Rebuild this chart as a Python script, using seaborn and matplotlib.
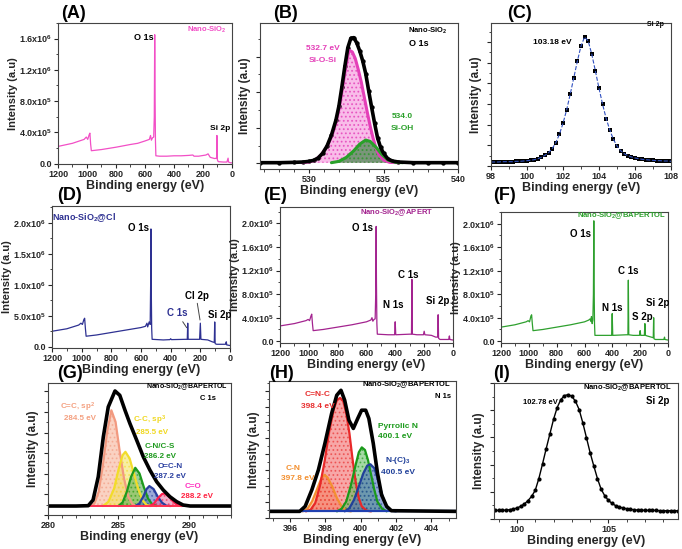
import numpy as np
import matplotlib
matplotlib.use("Agg")
import matplotlib.pyplot as plt
from matplotlib.ticker import FuncFormatter, MultipleLocator, AutoMinorLocator, NullFormatter
import seaborn as sns

# ---- survey spectra (energy in eV, counts in units of 1e6) ----
a_energy = [1200, 1100, 1020, 1005, 995, 985, 980, 975, 970, 900, 800, 700, 650, 600, 570, 562, 556,
            548, 540, 536, 533, 531, 528, 525, 500, 450, 400, 350, 300, 270, 262, 230, 180, 165, 150,
            120, 106, 104, 101, 95, 60, 35, 27, 24, 10, 0]
a_counts = [0.22, 0.26, 0.31, 0.34, 0.31, 0.37, 0.39, 0.25, 0.165, 0.18, 0.21, 0.245, 0.26, 0.29, 0.31,
            0.36, 0.30, 0.33, 0.34, 0.6, 1.65, 1.0, 0.3, 0.1, 0.095, 0.095, 0.1, 0.1, 0.105, 0.11, 0.095,
            0.095, 0.11, 0.125, 0.08, 0.065, 0.07, 0.36, 0.05, 0.025, 0.02, 0.02, 0.07, 0.02, 0.01, 0.01]

d_energy = [1200, 1100, 1020, 1005, 995, 985, 980, 975, 970, 900, 800, 700, 600, 570, 560, 555, 545,
            538, 535, 533, 531, 528, 525, 450, 405, 400, 395, 300, 288, 285, 282, 250, 205, 200, 196,
            150, 120, 106, 103, 100, 90, 30, 25, 22, 0]
d_counts = [0.25, 0.29, 0.35, 0.38, 0.36, 0.44, 0.46, 0.3, 0.17, 0.19, 0.23, 0.27, 0.31, 0.33, 0.38,
            0.32, 0.40, 0.36, 1.0, 1.9, 1.0, 0.3, 0.12, 0.11, 0.115, 0.13, 0.115, 0.12, 0.12, 0.38, 0.12,
            0.12, 0.12, 0.38, 0.12, 0.11, 0.08, 0.07, 0.40, 0.05, 0.04, 0.04, 0.08, 0.03, 0.02]

e_energy = [1200, 1100, 1020, 1005, 995, 985, 980, 975, 970, 900, 800, 700, 600, 570, 562, 556, 548,
            540, 536, 533, 531, 528, 525, 450, 405, 401, 397, 300, 288, 285, 282, 250, 205, 200, 195,
            150, 120, 106, 103, 100, 90, 30, 25, 22, 0]
e_counts = [0.26, 0.30, 0.35, 0.37, 0.35, 0.43, 0.46, 0.3, 0.18, 0.20, 0.24, 0.28, 0.33, 0.36, 0.40,
            0.34, 0.37, 0.38, 0.8, 1.95, 1.0, 0.3, 0.12, 0.11, 0.11, 0.33, 0.11, 0.12, 0.12, 1.05, 0.12,
            0.11, 0.11, 0.17, 0.11, 0.10, 0.07, 0.07, 0.45, 0.05, 0.03, 0.03, 0.09, 0.03, 0.02]

f_energy = [1200, 1100, 1020, 1005, 995, 985, 980, 975, 970, 900, 800, 700, 600, 570, 560, 555, 550,
            545, 540, 536, 533, 531, 528, 525, 450, 405, 401, 397, 300, 288, 285, 282, 250, 205, 200,
            196, 170, 166, 162, 150, 120, 106, 103, 100, 90, 30, 25, 22, 0]
f_counts = [0.24, 0.28, 0.33, 0.35, 0.33, 0.43, 0.45, 0.3, 0.18, 0.20, 0.24, 0.28, 0.33, 0.36, 0.38,
            0.34, 0.42, 0.30, 0.36, 0.8, 2.05, 1.0, 0.3, 0.10, 0.10, 0.10, 0.47, 0.10, 0.11, 0.11, 1.04,
            0.11, 0.10, 0.10, 0.18, 0.10, 0.10, 0.30, 0.10, 0.09, 0.07, 0.06, 0.40, 0.04, 0.03, 0.03,
            0.07, 0.03, 0.02]

# ---- (B) O 1s of nano-SiO2 ----
b_env_x = [526.7, 528, 529, 529.6, 530.0, 530.3, 530.6, 530.9, 531.2, 531.5, 531.8, 532.0, 532.2, 532.4,
           532.6, 532.8, 533.0, 533.2, 533.4, 533.6, 533.8, 534.0, 534.2, 534.4, 534.6, 534.8, 535.0,
           535.3, 535.6, 536.0, 537, 538, 539, 540]
b_env_y = [2, 2, 3, 4, 6, 9, 16, 30, 52, 85, 130, 172, 230, 292, 348, 376, 378, 362, 338, 308, 270, 218,
           168, 120, 76, 48, 30, 13, 7, 4, 2, 2, 2, 2]
b_siosi_x = [529.5, 530, 530.4, 530.8, 531.2, 531.5, 531.8, 532.0, 532.2, 532.4, 532.6, 532.7, 532.9,
             533.1, 533.3, 533.5, 533.7, 533.9, 534.1, 534.3, 534.5, 534.7, 535.0, 535.4, 536]
b_siosi_y = [2, 4, 10, 25, 50, 80, 122, 162, 215, 272, 325, 340, 335, 315, 282, 245, 200, 155, 112, 75,
             45, 25, 10, 3, 2]
b_sioh_x = [531.5, 532.0, 532.5, 533.0, 533.4, 533.8, 534.1, 534.5, 534.9, 535.3, 535.8, 536.3]
b_sioh_y = [2, 6, 18, 38, 58, 70, 66, 48, 26, 10, 3, 2]

# ---- (C) Si 2p of nano-SiO2 ----
c_x = [98.0, 98.2, 98.4, 98.6, 98.8, 99.0, 99.2, 99.4, 99.6, 99.8, 100.0, 100.2, 100.4, 100.6, 100.8,
       101.0, 101.2, 101.4, 101.6, 101.8, 102.0, 102.2, 102.4, 102.6, 102.8, 103.0, 103.2, 103.4, 103.6,
       103.8, 104.0, 104.2, 104.4, 104.6, 104.8, 105.0, 105.2, 105.4, 105.6, 105.8, 106.0, 106.2, 106.4,
       106.6, 106.8, 107.0, 107.2, 107.4, 107.6, 107.8, 108.0]
c_y = [12, 12, 12, 13, 13, 13, 13, 14, 14, 15, 16, 17, 19, 22, 26, 32, 40, 52, 70, 95, 128, 168, 215,
       265, 315, 360, 387, 375, 335, 285, 233, 185, 142, 108, 80, 60, 46, 37, 31, 27, 24, 22, 20, 19,
       18, 17, 16, 16, 15, 15, 14]

# ---- (G) C 1s of nano-SiO2@BAPERTOL ----
g_env_x = [280, 282.0, 282.86, 283.2, 283.57, 283.93, 284.28, 284.76, 285.1, 285.47, 285.82, 286.3,
           286.77, 287.24, 287.72, 288.19, 288.66, 289.14, 289.6, 290.1, 293]
g_env_y = [27, 27, 28, 45, 115, 235, 325, 373, 360, 315, 275, 225, 175, 135, 100, 75, 55, 40, 30, 27, 27]
g_csp2_x = [283.0, 283.3, 283.6, 283.9, 284.2, 284.5, 284.8, 285.1, 285.4, 285.7, 286.0, 286.3]
g_csp2_y = [27, 35, 70, 150, 250, 315, 280, 190, 110, 55, 32, 27]
g_csp3_x = [283.9, 284.3, 284.7, 285.0, 285.3, 285.5, 285.8, 286.1, 286.4, 286.7, 287.0, 287.3]
g_csp3_y = [27, 40, 80, 135, 180, 190, 170, 125, 80, 45, 30, 27]
g_cn_x = [285.0, 285.3, 285.6, 285.9, 286.2, 286.5, 286.8, 287.1, 287.4, 287.7]
g_cn_y = [27, 38, 70, 115, 142, 125, 85, 50, 32, 27]
g_ocn_x = [286.2, 286.5, 286.8, 287.0, 287.2, 287.5, 287.8, 288.1, 288.4, 288.7]
g_ocn_y = [27, 35, 58, 78, 87, 78, 55, 37, 28, 27]
g_co_x = [287.2, 287.5, 287.8, 288.1, 288.3, 288.6, 288.9, 289.2, 289.5]
g_co_y = [27, 33, 50, 63, 65, 55, 40, 30, 27]

# ---- (H) N 1s of nano-SiO2@BAPERTOL ----
h_env_x = [394.8, 396.54, 396.85, 397.23, 397.60, 397.97, 398.35, 398.64, 398.88, 399.09, 399.33, 399.58,
           399.83, 400.05, 400.28, 400.46, 400.71, 400.95, 401.18, 401.47, 401.74, 405.4]
h_env_y = [20, 20, 35, 85, 145, 225, 315, 370, 385, 355, 295, 270, 300, 325, 325, 300, 225, 135, 70,
           35, 22, 20]
h_cn_x = [396.71, 396.98, 397.24, 397.51, 397.77, 397.95, 398.12, 398.39, 398.65, 398.92, 399.18, 399.45]
h_cn_y = [20, 28, 50, 85, 120, 130, 122, 95, 60, 35, 22, 20]
h_cnc_x = [396.89, 397.16, 397.42, 397.68, 397.95, 398.21, 398.48, 398.65, 398.83, 399.01, 399.18,
           399.36, 399.53, 399.71, 399.89, 400.06, 400.33, 400.59]
h_cnc_y = [20, 25, 45, 95, 170, 260, 330, 355, 362, 352, 315, 255, 180, 110, 60, 35, 22, 20]
h_pyr_x = [398.65, 398.92, 399.18, 399.45, 399.71, 399.89, 400.06, 400.24, 400.41, 400.59, 400.77,
           400.94, 401.21, 401.47]
h_pyr_y = [20, 28, 50, 100, 160, 198, 213, 205, 175, 130, 85, 50, 28, 20]
h_nc3_x = [399.09, 399.36, 399.62, 399.89, 400.15, 400.37, 400.55, 400.77, 400.94, 401.12, 401.30,
           401.47, 401.74, 402.00]
h_nc3_y = [20, 30, 55, 95, 135, 158, 162, 150, 122, 88, 55, 33, 22, 20]

# ---- (I) Si 2p of nano-SiO2@BAPERTOL ----
i_x = [98.8, 99.0, 99.2, 99.4, 99.6, 99.8, 100.0, 100.2, 100.4, 100.6, 100.8, 101.0, 101.2, 101.4,
       101.6, 101.8, 102.0, 102.2, 102.4, 102.6, 102.8, 103.0, 103.2, 103.4, 103.6, 103.8, 104.0, 104.2,
       104.4, 104.6, 104.8, 105.0, 105.2, 105.4, 105.6, 105.8, 106.0, 106.2, 106.4, 106.6, 106.8, 107.0,
       107.2, 107.4, 107.6, 107.8, 108.0, 108.2, 108.4, 108.6, 108.8]
i_y = [26, 26, 26, 27, 28, 30, 33, 38, 45, 55, 68, 86, 122, 166, 212, 256, 300, 336, 360, 372, 375,
       370, 355, 330, 290, 245, 200, 160, 122, 90, 70, 56, 47, 40, 36, 33, 31, 29, 28, 27, 27, 26, 26,
       26, 26, 25, 25, 25, 25, 25, 25]

W, H = 682, 549

sns.set_style("ticks")
plt.rcParams["font.family"] = ["Liberation Sans", "DejaVu Sans"]
plt.rcParams["font.weight"] = "bold"
plt.rcParams["axes.labelweight"] = "bold"
plt.rcParams["mathtext.fontset"] = "custom"
plt.rcParams["mathtext.rm"] = "Liberation Sans:bold"
plt.rcParams["mathtext.it"] = "Liberation Sans:bold"
plt.rcParams["mathtext.bf"] = "Liberation Sans:bold"
plt.rcParams["mathtext.default"] = "rm"
plt.rcParams["hatch.linewidth"] = 0.8

fig = plt.figure(figsize=(W / 100, H / 100), dpi=100)
fig.patch.set_facecolor("white")


def px_axes(l, t, r, b):
    return fig.add_axes([l / W, 1 - b / H, (r - l) / W, (b - t) / H])


def ftext(x, y, s, size=6.5, color="black", **kw):
    fig.text(x / W, 1 - y / H, s, ha="center", va="center", fontsize=size, color=color,
             fontweight="bold", **kw)


def sci_fmt(v, pos):
    if v < 0:
        return ""
    if v < 1:
        return "0.0"
    e = int(np.floor(np.log10(v)))
    return f"{v / 10 ** e:.1f}x10$^{{{e}}}$"


def style(ax, xlim, xmajor, xminor, ylim, ylabels=False):
    ax.set_xlim(*xlim)
    ax.set_ylim(*ylim)
    ax.xaxis.set_major_locator(MultipleLocator(xmajor))
    ax.xaxis.set_minor_locator(MultipleLocator(xminor))
    if not ylabels:
        ax.yaxis.set_major_formatter(NullFormatter())
        ax.yaxis.set_minor_locator(AutoMinorLocator(2))
    for sp in ax.spines.values():
        sp.set_visible(True)
        sp.set_color("#444444")
        sp.set_linewidth(0.8)
    ax.tick_params(which="major", direction="out", length=3, width=0.8, labelsize=6.5, pad=1.2)
    ax.tick_params(which="minor", direction="out", length=1.8, width=0.6)
    ax.set_xlabel("Binding energy (eV)", fontsize=9, labelpad=1)
    if ylabels:
        ax.set_ylabel("Intensity (a.u)", fontsize=8, labelpad=0.5)
    else:
        ax.set_ylabel("Intensity (a.u)", fontsize=8.5, labelpad=1)
    ax.set_facecolor("white")


def survey(ax, energy, counts, color, ymajor, ylim):
    sns.lineplot(x=np.array(energy), y=np.array(counts) * 1e6, ax=ax, color=color, lw=0.9,
                 estimator=None, sort=False)
    style(ax, (1200, 0), 200, 100, ylim, ylabels=True)
    ax.yaxis.set_major_locator(MultipleLocator(ymajor))
    ax.yaxis.set_minor_locator(MultipleLocator(ymajor / 2))
    ax.yaxis.set_major_formatter(FuncFormatter(sci_fmt))
    ax.set_xticks([1200, 1000, 800, 600, 400, 200, 0])


def component(ax, x, y, base, fill, edge, alpha=0.55, lw=1.6):
    ax.fill_between(x, base, y, facecolor=fill, alpha=alpha, edgecolor=edge, hatch="....", linewidth=0)
    sns.lineplot(x=x, y=y, ax=ax, color=edge, lw=lw, estimator=None, sort=False)


# ---------------- (A) ----------------
axA = px_axes(58, 23, 232, 164)
survey(axA, a_energy, a_counts, "#f24fc6", 0.4e6, (-0.005e6, 1.8e6))
ftext(207, 30, "Nano-SiO$_2$", 5.5, "#f24fc6")
ftext(144, 37, "O 1s", 6.5)
ftext(220, 128, "Si 2p", 6)

# ---------------- (B) ----------------
axB = px_axes(260, 23, 458, 169)
component(axB, b_siosi_x, b_siosi_y, 2, "#f7a6e2", "#e43fb8", alpha=0.75, lw=2.2)
component(axB, b_sioh_x, b_sioh_y, 2, "#4f8a55", "#2aa02a", alpha=0.75, lw=2.2)
sns.lineplot(x=b_env_x, y=b_env_y, ax=axB, color="black", lw=2.6, estimator=None, sort=False)
sns.scatterplot(x=b_env_x, y=b_env_y, ax=axB, color="black", s=10, linewidth=0)
style(axB, (526.7, 540), 5, 1, (-17, 422))
axB.yaxis.set_major_locator(MultipleLocator(107))
ftext(428, 31, "Nano-SiO$_2$", 5.5)
ftext(419, 43, "O 1s", 6.5)
ftext(323, 49, "532.7 eV", 6, "#e43fb8")
ftext(323, 60, "Si-O-Si", 6, "#e43fb8")
ftext(402, 117, "534.0", 6, "#2aa02a")
ftext(402, 129, "Si-OH", 6, "#2aa02a")

# ---------------- (C) ----------------
axC = px_axes(491, 23, 671, 166)
sns.lineplot(x=c_x, y=c_y, ax=axC, color="#3050c0", lw=0.8, linestyle="--", estimator=None, sort=False)
sns.scatterplot(x=c_x, y=c_y, ax=axC, color="black", marker="s", s=11, linewidth=0)
style(axC, (98, 108), 2, 1, (0, 429))
axC.yaxis.set_major_locator(MultipleLocator(62))
ftext(552, 42, "103.18 eV", 6)
ftext(655, 25, "Si 2p", 5)

# ---------------- (D) ----------------
axD = px_axes(52, 206, 230, 348)
survey(axD, d_energy, d_counts, "#2e3192", 0.5e6, (-0.02e6, 2.27e6))
ftext(84, 218, "Nano-SiO$_2$@Cl", 6.5, "#2e3192")
ftext(139, 228, "O 1s", 7)
ftext(177, 313, "C 1s", 7, "#2e3192")
ftext(197, 296, "Cl 2p", 7)
ftext(220, 315, "Si 2p", 7)
fig.add_artist(plt.Line2D([182.7 / W, 186.7 / W], [1 - 321.7 / H, 1 - 327.7 / H], color="#444444", lw=0.7))
fig.add_artist(plt.Line2D([197.3 / W, 200 / W], [1 - 303.3 / H, 1 - 320 / H], color="#444444", lw=0.7))

# ---------------- (E) ----------------
axE = px_axes(280, 207, 453, 343)
survey(axE, e_energy, e_counts, "#a3238f", 0.4e6, (-0.03e6, 2.28e6))
ftext(397, 213, "Nano-SiO$_2$@APERT", 5.5, "#a3238f")
ftext(363, 228, "O 1s", 7)
ftext(393, 305, "N 1s", 7)
ftext(408, 275, "C 1s", 7)
ftext(438, 301, "Si 2p", 7)

# ---------------- (F) ----------------
axF = px_axes(501, 212, 668, 343)
survey(axF, f_energy, f_counts, "#2ea02e", 0.4e6, (-0.03e6, 2.2e6))
ftext(622, 216, "Nano-SiO$_2$@BAPERTOL", 5.5, "#2ea02e")
ftext(580, 234, "O 1s", 7)
ftext(612, 308, "N 1s", 7)
ftext(628, 271, "C 1s", 7)
ftext(642, 317, "S 2p", 7)
ftext(658, 303, "Si 2p", 7)

# ---------------- (G) ----------------
axG = px_axes(48, 383, 231, 515)
component(axG, g_csp2_x, g_csp2_y, 27, "#f6ad90", "#f29a80")
component(axG, g_csp3_x, g_csp3_y, 27, "#f2e15a", "#f2dc2a")
component(axG, g_cn_x, g_cn_y, 27, "#4ea94e", "#1e9a1e")
component(axG, g_ocn_x, g_ocn_y, 27, "#4a64b8", "#2a3fa0")
component(axG, g_co_x, g_co_y, 27, "#e070a0", "#ff2050")
axG.axhline(27, color="#ff3050", lw=1.4)
sns.lineplot(x=g_env_x, y=g_env_y, ax=axG, color="black", lw=2.6, estimator=None, sort=False)
style(axG, (280, 293), 5, 1, (0, 397))
axG.yaxis.set_major_locator(MultipleLocator(62))
ftext(187, 387, "Nano-SiO$_2$@BAPERTOL", 5)
ftext(208, 398, "C 1s", 5.5)
ftext(78, 407, "C=C, sp$^2$", 5.8, "#f4a080")
ftext(80, 418, "284.5 eV", 5.8, "#f4a080")
ftext(150, 420, "C-C, sp$^3$", 5.8, "#f0d820")
ftext(152, 432, "285.5 eV", 5.8, "#f0d820")
ftext(160, 446, "C-N/C-S", 5.8, "#1e9a1e")
ftext(160, 456, "286.2 eV", 5.8, "#1e9a1e")
ftext(170, 467, "O=C-N", 5.8, "#2a3fa0")
ftext(170, 477, "287.2 eV", 5.8, "#2a3fa0")
ftext(193, 487, "C=O", 5.8, "#ff30c0")
ftext(197, 497, "288.2 eV", 5.8, "#ff2040")

# ---------------- (H) ----------------
axH = px_axes(269, 381, 456, 518)
component(axH, h_cn_x, h_cn_y, 20, "#f9a860", "#f39030")
component(axH, h_cnc_x, h_cnc_y, 20, "#f26060", "#e82828")
component(axH, h_pyr_x, h_pyr_y, 20, "#5cbb5c", "#1a9a1a")
component(axH, h_nc3_x, h_nc3_y, 20, "#3f63b8", "#20409a")
axH.axhline(20, color="#2040b0", lw=1.6)
sns.lineplot(x=h_env_x, y=h_env_y, ax=axH, color="black", lw=2.6, estimator=None, sort=False)
style(axH, (394.8, 405.4), 2, 1, (0, 413))
axH.yaxis.set_major_locator(MultipleLocator(48))
ftext(407, 385, "Nano-SiO$_2$@BAPERTOL", 5.5)
ftext(443, 397, "N 1s", 5.5)
ftext(318, 395, "C=N-C", 6, "#e83030")
ftext(318, 406, "398.4 eV", 6, "#e83030")
ftext(398, 427, "Pyrrolic N", 6, "#1a9a1a")
ftext(395, 436, "400.1 eV", 6, "#1a9a1a")
ftext(398, 460, "N-(C)$_3$", 6, "#20409a")
ftext(398, 472, "400.5 eV", 6, "#20409a")
ftext(293, 469, "C-N", 6, "#f39030")
ftext(298, 479, "397.8 eV", 6, "#f39030")

# ---------------- (I) ----------------
axI = px_axes(494, 383, 678, 519)
sns.lineplot(x=i_x, y=i_y, ax=axI, color="black", lw=1.0, estimator=None, sort=False)
sns.scatterplot(x=i_x, y=i_y, ax=axI, color="black", marker="o", s=9, linewidth=0)
style(axI, (98.75, 108.8), 5, 1, (0, 410))
axI.yaxis.set_major_locator(MultipleLocator(82))
ftext(540, 403, "102.78 eV", 5.5)
ftext(628, 388, "Nano-SiO$_2$@BAPERTOL", 5.5)
ftext(658, 401, "Si 2p", 7)

# panel letters
for lab, x, y in [("(A)", 74, 14), ("(B)", 286, 14), ("(C)", 520, 14),
                  ("(D)", 70, 195), ("(E)", 275, 195), ("(F)", 505, 195),
                  ("(G)", 70, 374), ("(H)", 282, 373), ("(I)", 502, 373)]:
    ftext(x, y, lab, 13)

fig.savefig("out.png", dpi=100, facecolor="white")
